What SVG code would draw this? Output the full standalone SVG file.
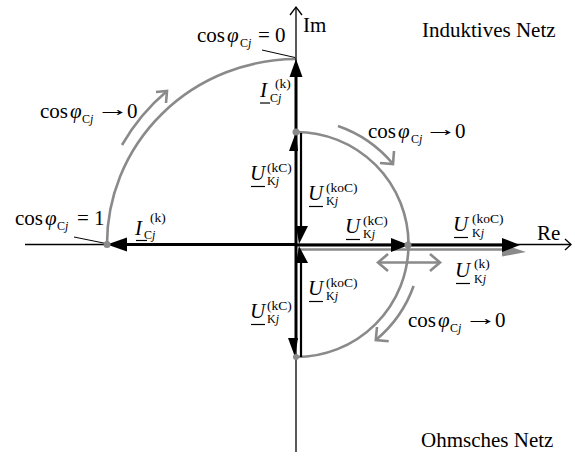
<svg xmlns="http://www.w3.org/2000/svg" width="575" height="456" viewBox="0 0 575 456">
<style>
.t{font-family:"Liberation Serif","Times New Roman",serif;font-size:21px;fill:#000}
.s{font-family:"Liberation Serif","Times New Roman",serif;font-size:12px;fill:#000}
.sp{font-family:"Liberation Serif","Times New Roman",serif;font-size:13.5px;fill:#000}
.i{font-style:italic}
.ax{stroke:#000;stroke-width:1.3;fill:none}
.bk{stroke:#000;stroke-width:3;fill:none}
.bk2{stroke:#000;stroke-width:2.2;fill:none}
.hd{fill:#000;stroke:none}
.gr{stroke:#8a8a8a;stroke-width:2.6;fill:none}
.gh{stroke:#8a8a8a;stroke-width:2.6;fill:none;stroke-linejoin:miter}
.gf{fill:#8a8a8a;stroke:none}
.ul{stroke:#000;stroke-width:1.2}
.ld{stroke:#000;stroke-width:1}
</style>
<rect width="575" height="456" fill="#fff"/>

<g id="arcs">
<path class="gr" d="M 296 59 A 190 185 0 0 0 107 244.5"/>
<path class="gr" d="M 296 132 A 112.5 112.5 0 0 1 296 357"/>
<path class="gr" d="M 122 145 A 201 201 0 0 1 167 91"/>
<polyline class="gh" points="156,92 167,91 166,103"/>
<path class="gr" d="M 338 126 A 125 125 0 0 1 393 164"/>
<polyline class="gh" points="394,151 393,164 380,163"/>
<path class="gr" d="M 413.6 286 A 124 124 0 0 1 375.8 340"/>
<polyline class="gh" points="377,327 375.8,340 388.7,341.3"/>
<line class="gr" x1="378" y1="262.5" x2="440" y2="262.5"/>
<polyline class="gh" points="388,254 378,262.5 388,271"/>
<polyline class="gh" points="430,254 440,262.5 430,271"/>
</g>

<g id="axes">
<line class="ax" x1="25" y1="244.5" x2="571" y2="244.5"/>
<polyline class="ax" points="565,239 571,244.5 565,250"/>
<line class="ax" x1="296" y1="452" x2="296" y2="7"/>
<polyline class="ax" points="290,15 296,7 302,15"/>
</g>

<g id="connectors">
<line class="gr" x1="298" y1="249.5" x2="506" y2="249.5" stroke-width="3"/>
<polygon class="gf" points="502,244 526,252 502,256.5"/>
<line class="bk" x1="296" y1="244.5" x2="124" y2="244.5"/>
<polygon class="hd" points="107,244.5 127,237.5 127,251.5"/>
<line class="bk" x1="296" y1="244" x2="296" y2="74"/>
<polygon class="hd" points="296,59 289.5,77 302.5,77"/>
<polygon class="hd" points="296,132 289,151 298,151"/>
<line class="bk2" x1="301" y1="133" x2="301" y2="228"/>
<polygon class="hd" points="299,244 296,226 308,226"/>
<line class="bk" x1="296" y1="245" x2="296" y2="340"/>
<polygon class="hd" points="295,357 288,338 298,338"/>
<line class="bk2" x1="301" y1="357" x2="301" y2="262"/>
<polygon class="hd" points="299,246 296,263 308,263"/>
<line class="bk" x1="296" y1="245" x2="393" y2="245"/>
<polygon class="hd" points="409,245 391,238 391,252"/>
<line class="bk" x1="409" y1="245" x2="504" y2="245"/>
<polygon class="hd" points="520,245 502,238 502,252"/>
<line class="ld" x1="262" y1="50" x2="295" y2="57.5"/>
<line class="ld" x1="74" y1="237" x2="106" y2="243.5"/>
</g>

<g id="points" fill="#8a8a8a">
<circle cx="107" cy="244.5" r="3.5"/>
<circle cx="296" cy="132" r="3.5"/>
<circle cx="408" cy="245" r="3.5"/>
<circle cx="296" cy="357" r="3"/>
</g>

<g id="labels">
<text class="t" x="303" y="32">Im</text>
<text class="t" x="537" y="240">Re</text>
<text class="t" x="422" y="37">Induktives Netz</text>
<text class="t" x="421" y="447">Ohmsches Netz</text>

<g id="cos0">
<text class="t" x="197" y="42">cos<tspan class="i" x="227">φ</tspan><tspan x="258">= 0</tspan></text>
<text class="s" x="240" y="47">C<tspan class="i">j</tspan></text>
</g>
<g id="cos1">
<text class="t" x="15" y="225">cos<tspan class="i" x="45">φ</tspan><tspan x="77">= 1</tspan></text>
<text class="s" x="57" y="230">C<tspan class="i">j</tspan></text>
</g>
<g id="cosL">
<text class="t" x="40" y="118">cos<tspan class="i" x="70">φ</tspan><tspan x="127">0</tspan></text>
<text class="s" x="82" y="123">C<tspan class="i">j</tspan></text>
<text class="t" transform="translate(96 115.5) scale(1.6 1)">→</text>
</g>
<g id="cosR1">
<text class="t" x="368" y="138">cos<tspan class="i" x="398">φ</tspan><tspan x="455">0</tspan></text>
<text class="s" x="411" y="143">C<tspan class="i">j</tspan></text>
<text class="t" transform="translate(424 135.5) scale(1.6 1)">→</text>
</g>
<g id="cosR2">
<text class="t" x="408" y="327">cos<tspan class="i" x="438">φ</tspan><tspan x="495">0</tspan></text>
<text class="s" x="450" y="332">C<tspan class="i">j</tspan></text>
<text class="t" transform="translate(464 324.5) scale(1.6 1)">→</text>
</g>

<g id="I-vert">
<text class="t i" x="260" y="97">I</text>
<line class="ul" x1="260" y1="103" x2="270" y2="103"/>
<text class="sp" x="275" y="88">(k)</text>
<text class="s" x="270" y="102">C<tspan class="i">j</tspan></text>
</g>
<g id="I-hor">
<text class="t i" x="135" y="235">I</text>
<line class="ul" x1="136" y1="240.5" x2="147" y2="240.5"/>
<text class="sp" x="150" y="222">(k)</text>
<text class="s" x="144" y="239">C<tspan class="i">j</tspan></text>
</g>

<g id="U-kC-up">
<text class="t i" x="250" y="180">U</text>
<line class="ul" x1="251" y1="186.5" x2="265" y2="186.5"/>
<text class="sp" x="267" y="172">(kC)</text>
<text class="s" x="267" y="185">K<tspan class="i">j</tspan></text>
</g>
<g id="U-koC-up">
<text class="t i" x="308" y="200">U</text>
<line class="ul" x1="309" y1="206.5" x2="323" y2="206.5"/>
<text class="sp" x="326" y="192">(koC)</text>
<text class="s" x="326" y="205">K<tspan class="i">j</tspan></text>
</g>
<g id="U-kC-re">
<text class="t i" x="345" y="233">U</text>
<line class="ul" x1="346" y1="239.5" x2="360" y2="239.5"/>
<text class="sp" x="363" y="225">(kC)</text>
<text class="s" x="363" y="238">K<tspan class="i">j</tspan></text>
</g>
<g id="U-koC-re">
<text class="t i" x="453" y="231">U</text>
<line class="ul" x1="454" y1="237.5" x2="468" y2="237.5"/>
<text class="sp" x="472" y="223">(koC)</text>
<text class="s" x="472" y="237">K<tspan class="i">j</tspan></text>
</g>
<g id="U-k">
<text class="t i" x="455" y="277">U</text>
<line class="ul" x1="456" y1="283.5" x2="470" y2="283.5"/>
<text class="sp" x="474" y="268">(k)</text>
<text class="s" x="474" y="283">K<tspan class="i">j</tspan></text>
</g>
<g id="U-koC-down">
<text class="t i" x="308" y="295">U</text>
<line class="ul" x1="309" y1="301.5" x2="323" y2="301.5"/>
<text class="sp" x="326" y="287">(koC)</text>
<text class="s" x="326" y="300">K<tspan class="i">j</tspan></text>
</g>
<g id="U-kC-down">
<text class="t i" x="250" y="318">U</text>
<line class="ul" x1="251" y1="324.5" x2="265" y2="324.5"/>
<text class="sp" x="267" y="310">(kC)</text>
<text class="s" x="267" y="323">K<tspan class="i">j</tspan></text>
</g>
</g>
</svg>
